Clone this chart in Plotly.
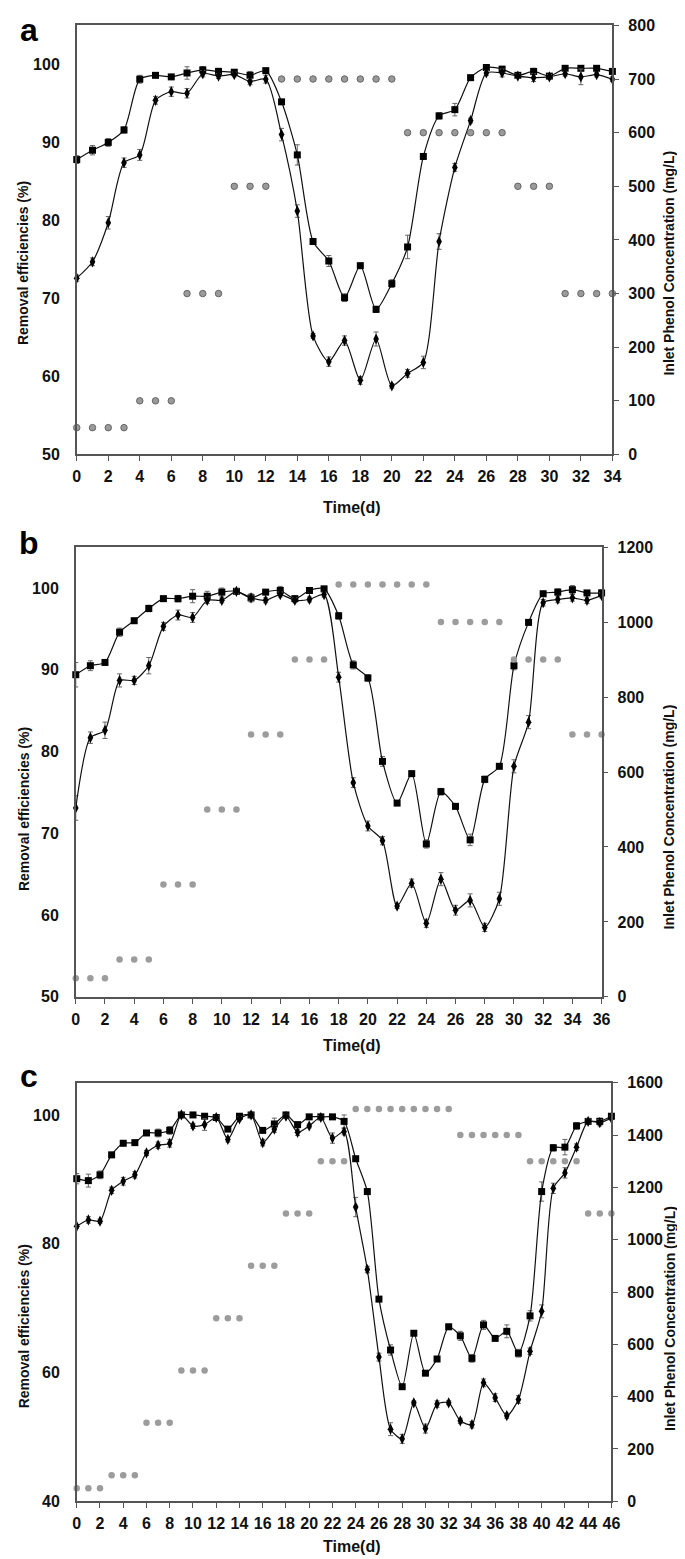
import plotly.graph_objects as go

W, H = 685, 1559

# ---------------- data ----------------
days_a = list(range(0, 35))
sq_a = [87.8, 89.0, 90.0, 91.6, 98.1, 98.6, 98.4, 98.9, 99.3, 99.1, 99.0, 98.6, 99.2,
        95.2, 88.4, 77.3, 74.8, 70.1, 74.2, 68.6, 71.9, 76.6, 88.2, 93.4, 94.2, 98.3,
        99.6, 99.4, 98.6, 99.1, 98.5, 99.5, 99.5, 99.5, 99.1]
sq_a_err = [0.5, 0.6, 0.5, 0.4, 0.5, 0.3, 0.3, 0.8, 0.4, 0.4, 0.3, 0.5, 0.3, 0.3, 1.3, 0.3,
            0.7, 0.5, 0.3, 0.4, 0.5, 1.5, 0.3, 0.4, 0.8, 0.3, 0.3, 0.3, 0.3, 0.4, 0.3, 0.3,
            0.3, 0.3, 0.3]
di_a = [72.6, 74.7, 79.7, 87.4, 88.4, 95.4, 96.5, 96.3, 98.8, 98.5, 98.7, 97.8, 98.1,
        91.0, 81.2, 65.2, 61.9, 64.6, 59.5, 64.8, 58.8, 60.4, 61.8, 77.3, 86.8, 92.8,
        98.9, 98.9, 98.5, 98.3, 98.4, 98.8, 98.4, 98.7, 98.1]
di_a_err = [0.4, 0.5, 0.8, 0.6, 0.7, 0.5, 0.6, 0.6, 0.4, 0.3, 0.3, 0.4, 0.5, 0.8, 0.8, 0.3,
            0.6, 0.6, 0.5, 0.9, 0.3, 0.5, 0.8, 1.0, 0.5, 0.3, 0.3, 0.5, 0.3, 0.5, 0.3, 0.3,
            1.0, 0.3, 0.3]
inlet_a = [50, 50, 50, 50, 100, 100, 100, 300, 300, 300, 500, 500, 500,
           700, 700, 700, 700, 700, 700, 700, 700, 600, 600, 600, 600, 600, 600, 600,
           500, 500, 500, 300, 300, 300, 300]

days_b = list(range(0, 37))
sq_b = [89.4, 90.5, 90.9, 94.6, 96.0, 97.5, 98.7, 98.7, 99.0, 99.0, 99.5, 99.6, 98.8,
        99.5, 99.7, 98.7, 99.7, 99.9, 96.6, 90.6, 89.0, 78.8, 73.7, 77.3, 68.7, 75.1,
        73.3, 69.2, 76.6, 78.2, 90.5, 95.8, 99.3, 99.5, 99.8, 99.4, 99.4]
sq_b_err = [1.5, 0.6, 0.3, 0.5, 0.3, 0.4, 0.3, 0.4, 0.8, 0.6, 0.5, 0.3, 0.5, 0.3, 0.5, 0.3,
            0.3, 0.3, 0.4, 0.5, 0.4, 0.6, 0.3, 0.3, 0.5, 0.4, 0.3, 0.7, 0.4, 0.3, 0.5, 0.3,
            0.3, 0.4, 0.5, 0.3, 0.4]
di_b = [73.1, 81.7, 82.6, 88.7, 88.7, 90.5, 95.3, 96.7, 96.4, 98.5, 98.5, 99.6, 98.8,
        98.5, 99.2, 98.5, 98.6, 99.2, 89.1, 76.2, 70.9, 69.1, 61.1, 63.9, 59.0, 64.4,
        60.6, 61.8, 58.5, 62.0, 78.2, 83.6, 98.2, 98.6, 98.8, 98.5, 99.1]
di_b_err = [1.5, 0.7, 1.0, 0.8, 0.5, 1.0, 0.5, 0.6, 0.6, 0.4, 0.3, 0.3, 0.3, 0.3, 0.3, 0.3,
            0.3, 0.3, 0.6, 0.6, 0.6, 0.5, 0.3, 0.5, 0.5, 0.8, 0.6, 0.8, 0.5, 0.8, 0.8, 0.8,
            0.4, 0.4, 0.4, 0.4, 0.3]
inlet_b = [50, 50, 50, 100, 100, 100, 300, 300, 300, 500, 500, 500, 700, 700, 700,
           900, 900, 900, 1100, 1100, 1100, 1100, 1100, 1100, 1100,
           1000, 1000, 1000, 1000, 1000, 900, 900, 900, 900, 700, 700, 700]

days_c = list(range(0, 47))
sq_c = [90.1, 89.8, 90.7, 93.8, 95.6, 95.7, 97.2, 97.2, 97.6, 100.0, 100.0, 99.8, 99.6,
        97.8, 99.8, 100.0, 97.6, 98.6, 100.0, 98.5, 99.7, 99.7, 99.7, 99.0, 93.2, 88.1,
        71.4, 63.5, 57.8, 66.1, 59.9, 62.1, 67.1, 65.7, 62.2, 67.4, 65.3, 66.4, 63.0,
        68.8, 88.1, 94.9, 95.0, 98.3, 99.0, 99.0, 99.8]
sq_c_err = [0.8, 1.0, 0.6, 0.4, 0.3, 0.3, 0.3, 0.6, 0.6, 0.3, 0.3, 0.3, 0.3, 0.3, 0.3, 0.3,
            0.3, 0.9, 0.3, 0.3, 0.3, 0.3, 0.3, 1.0, 0.3, 0.3, 0.3, 0.8, 0.3, 0.3, 0.3, 0.3,
            0.4, 0.7, 0.6, 0.7, 0.3, 1.0, 0.6, 0.8, 1.5, 0.5, 1.2, 0.5, 0.3, 0.5, 0.3]
di_c = [82.7, 83.7, 83.5, 88.3, 89.7, 90.7, 94.1, 95.3, 95.6, 100.0, 98.3, 98.5, 99.6,
        96.2, 99.4, 100.0, 95.7, 97.8, 99.8, 97.3, 98.3, 99.6, 96.4, 97.4, 85.7, 76.0,
        62.4, 51.2, 49.7, 55.3, 51.3, 55.1, 55.3, 52.5, 51.9, 58.4, 56.1, 53.3, 55.8,
        63.3, 69.5, 88.6, 91.0, 95.0, 99.0, 98.8, 99.5]
di_c_err = [0.3, 0.5, 0.3, 0.5, 0.6, 0.5, 0.4, 0.5, 0.6, 0.3, 0.4, 0.9, 0.3, 0.4, 0.3, 0.3,
            0.5, 0.5, 0.3, 0.5, 0.3, 0.3, 0.8, 0.5, 1.5, 0.5, 0.6, 1.0, 0.7, 0.3, 0.7, 0.5,
            0.3, 0.4, 0.5, 0.6, 0.6, 0.4, 0.6, 0.5, 1.0, 0.8, 0.8, 0.5, 0.4, 0.5, 0.3]
inlet_c = [50, 50, 50, 100, 100, 100, 300, 300, 300, 500, 500, 500, 700, 700, 700,
           900, 900, 900, 1100, 1100, 1100, 1300, 1300, 1300,
           1500, 1500, 1500, 1500, 1500, 1500, 1500, 1500, 1500,
           1400, 1400, 1400, 1400, 1400, 1400, 1300, 1300, 1300, 1300, 1300,
           1100, 1100, 1100]

ticks_a = [0, 2, 4, 6, 8, 10, 12, 14, 16, 18, 20, 22, 24, 26, 28, 30, 32, 34]
ticks_b = [0, 2, 4, 6, 8, 10, 12, 14, 16, 18, 20, 22, 24, 26, 28, 30, 32, 34, 36]
ticks_c = [0, 2, 4, 6, 8, 10, 12, 14, 16, 18, 20, 22, 24, 26, 28, 30, 32, 34, 36, 38,
           40, 42, 44, 46]

# ---------------- styling ----------------
FONT = "Liberation Sans, Arial, sans-serif"
NARROW = "Liberation Sans Narrow, Arial Narrow, Liberation Sans, Arial, sans-serif"
AX = "#555555"
TICKF = dict(family=NARROW, size=16, color="#111111", weight="bold")


def fx(px):
    return px / W


def fy(py):
    return 1 - py / H


panels = [
    dict(days=days_a, sq=sq_a, sqe=sq_a_err, di=di_a, die=di_a_err, inl=inlet_a,
         xt=ticks_a, xmax=34, ymin=50, yt=[50, 60, 70, 80, 90, 100], rmax=800, rdt=100,
         box=(66, 612, 9.5, 443.3), circ=dict(color="#9a9a9a", size=6.5,
                                              line=dict(color="#666666", width=1))),
    dict(days=days_b, sq=sq_b, sqe=sq_b_err, di=di_b, die=di_b_err, inl=inlet_b,
         xt=ticks_b, xmax=36, ymin=50, yt=[50, 60, 70, 80, 90, 100], rmax=1200, rdt=200,
         box=(65, 601, 537, 991.7), circ=dict(color="#9c9c9c", size=6.5,
                                              line=dict(width=0))),
    dict(days=days_c, sq=sq_c, sqe=sq_c_err, di=di_c, die=di_c_err, inl=inlet_c,
         xt=ticks_c, xmax=46, ymin=40, yt=[40, 60, 80, 100], rmax=1600, rdt=200,
         box=(66, 611, 1078.5, 1501.7), circ=dict(color="#9c9c9c", size=6.5,
                                                  line=dict(width=0))),
]

fig = go.Figure()
layout = dict(width=W, height=H, margin=dict(l=0, r=0, t=0, b=0),
              paper_bgcolor="white", plot_bgcolor="white", showlegend=False)

for i, p in enumerate(panels):
    xn = "x" if i == 0 else f"x{i+1}"
    yl = 2 * i + 1
    yr = 2 * i + 2
    yln = "y" if yl == 1 else f"y{yl}"
    yrn = f"y{yr}"
    l, r, t, b = p["box"]

    # inlet concentration (right axis)
    fig.add_trace(go.Scatter(x=p["days"], y=p["inl"], mode="markers", xaxis=xn, yaxis=yrn,
                             marker=dict(symbol="circle", **p["circ"]), cliponaxis=False))
    # square series
    fig.add_trace(go.Scatter(x=p["days"], y=p["sq"], mode="lines+markers", xaxis=xn, yaxis=yln,
                             line=dict(color="#111111", width=1.2, shape="spline", smoothing=0.7),
                             marker=dict(symbol="square", size=7, color="#000000"),
                             error_y=dict(type="data", array=p["sqe"], color="#666666",
                                          thickness=1, width=2.5),
                             cliponaxis=False))
    # diamond series
    fig.add_trace(go.Scatter(x=p["days"], y=p["di"], mode="lines+markers", xaxis=xn, yaxis=yln,
                             line=dict(color="#111111", width=1.2, shape="spline", smoothing=0.7),
                             marker=dict(symbol="diamond-tall", size=8, color="#000000"),
                             error_y=dict(type="data", array=p["die"], color="#666666",
                                          thickness=1, width=2.5),
                             cliponaxis=False))

    xkey = "xaxis" if i == 0 else f"xaxis{i+1}"
    ylkey = "yaxis" if yl == 1 else f"yaxis{yl}"
    yrkey = f"yaxis{yr}"
    layout[xkey] = dict(domain=[fx(l), fx(r)], anchor=yln, range=[0, p["xmax"]],
                        tickvals=p["xt"], ticks="outside", ticklen=5, tickcolor=AX,
                        showline=True, linecolor=AX, linewidth=1.5, mirror=True,
                        showgrid=False, zeroline=False, tickfont=TICKF,
                        ticklabelstandoff=2)
    layout[ylkey] = dict(domain=[fy(b), fy(t)], anchor=xn, range=[p["ymin"], 105],
                         tickvals=p["yt"], ticks="", showline=True, linecolor=AX,
                         linewidth=1.5, showgrid=False, zeroline=False, tickfont=TICKF,
                         ticklabelstandoff=12)
    layout[yrkey] = dict(overlaying=yln, anchor=xn, side="right", range=[0, p["rmax"]],
                         dtick=p["rdt"], tick0=0, ticks="outside", ticklen=5, tickcolor=AX,
                         showline=True, linecolor=AX, linewidth=1.5, showgrid=False,
                         zeroline=False, tickfont=TICKF, ticklabelstandoff=6)

ann = []
letters = [("a", 17, 14), ("b", 17, 533), ("c", 17, 1072)]
for txt, px, py in letters:
    ann.append(dict(text=f"<b>{txt}</b>", x=fx(px), y=fy(py), xref="paper", yref="paper",
                    showarrow=False, xanchor="center", yanchor="middle",
                    font=dict(family=FONT, size=32, color="#000")))
left_t = [250, 802, 1325]
right_t = [250, 810, 1317]
time_t = [497, 1041, 1547]
for ly, ry, ty in zip(left_t, right_t, time_t):
    ann.append(dict(text="<b>Removal efficiencies (%)</b>", x=fx(12), y=fy(ly), xref="paper",
                    yref="paper", showarrow=False, textangle=-90, xanchor="center",
                    yanchor="middle", font=dict(family=FONT, size=14, color="#111")))
    ann.append(dict(text="<b>Inlet Phenol Concentration (mg/L)</b>", x=fx(670), y=fy(ry),
                    xref="paper", yref="paper", showarrow=False, textangle=-90,
                    xanchor="center", yanchor="middle",
                    font=dict(family=FONT, size=14, color="#111")))
    ann.append(dict(text="<b>Time(d)</b>", x=fx(346), y=fy(ty), xref="paper", yref="paper",
                    showarrow=False, xanchor="center", yanchor="middle",
                    font=dict(family=NARROW, size=16, color="#111")))
layout["annotations"] = ann
fig.update_layout(**layout)
fig.write_html("out.html")
